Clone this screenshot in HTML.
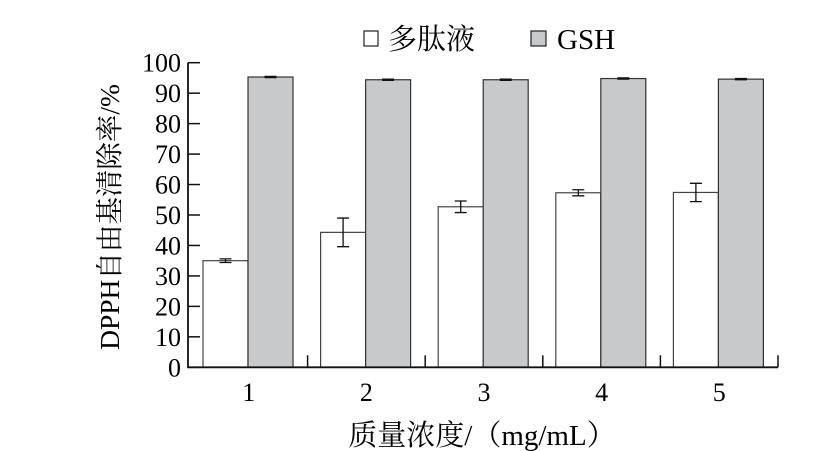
<!DOCTYPE html>
<html><head><meta charset="utf-8"><style>
html,body{margin:0;padding:0;background:#fff;}
svg{display:block;font-family:"Liberation Serif","Noto Serif CJK SC",serif;}
</style></head><body>
<svg id="chart" width="829" height="451">
<g id="legend">
 <rect x="364" y="31" width="14" height="15" fill="#fff" stroke="#222" stroke-width="1.2"/>
 <text x="388" y="49" font-size="29">多肽液</text>
 <rect x="531" y="31" width="15" height="15" fill="#c8c9cb" stroke="#222" stroke-width="1.2"/>
 <text x="557" y="49" font-size="29">GSH</text>
</g>
<g id="plot"></g>
<text transform="translate(119,217) rotate(-90)" text-anchor="middle" font-size="27.5">DPPH自由基清除率/%</text>
<text x="482" y="445" text-anchor="middle" font-size="29">质量浓度/（mg/mL）</text>
</svg>
<script>
const categories = ["1","2","3","4","5"];
const peptide = [35.0, 44.3, 52.7, 57.3, 57.4];
const peptideErr = [0.6, 4.7, 1.9, 1.0, 3.0];
const gsh = [95.3, 94.4, 94.4, 94.8, 94.6];
const gshErr = [0.2, 0.2, 0.2, 0.2, 0.2];
const yTicks = [0,10,20,30,40,50,60,70,80,90,100];

const NS="http://www.w3.org/2000/svg";
const x0=190, bandW=117.6, y0=367.3, y100=62.7, axisX=188, axisEnd=778;
const yS=v=>y0-(v/100)*(y0-y100);
const bandStart=i=>x0+i*bandW;
const g=document.getElementById('plot');
function mk(t,a){const e=document.createElementNS(NS,t);for(const k in a)e.setAttribute(k,a[k]);g.appendChild(e);return e;}
categories.forEach((c,i)=>{
  const cx=bandStart(i)+bandW/2;
  const w=45;
  let r=mk('rect',{x:cx-w-0.8,y:yS(peptide[i]),width:w,height:y0-yS(peptide[i]),fill:'#fff',stroke:'#444','stroke-width':1.2});
  
  
  let r2=mk('rect',{x:cx-0.8,y:yS(gsh[i]),width:w,height:y0-yS(gsh[i]),fill:'#c8c9cb',stroke:'#333','stroke-width':1.2});
  
  
  [[cx-w/2-0.8,peptide[i],peptideErr[i]],[cx+w/2-0.8,gsh[i],gshErr[i]]].forEach(([ex,v,e],j)=>{
    const p=mk('path',{d:`M${ex},${yS(v+e)}V${yS(v-e)}M${ex-6},${yS(v+e)}H${ex+6}M${ex-6},${yS(v-e)}H${ex+6}`,stroke:'#111','stroke-width':1.3,fill:'none'});
    
    
  });
  const sep=mk('line',{x1:bandStart(i+1),x2:bandStart(i+1),y1:y0,y2:y0-12,stroke:'#111','stroke-width':1.5});
  
  
  const t=mk('text',{x:cx,y:401,'text-anchor':'middle','font-size':26});
  t.textContent=c;
  
  
});
yTicks.forEach(v=>{
  const l=mk('line',{x1:axisX,x2:axisX+12,y1:yS(v),y2:yS(v),stroke:'#111','stroke-width':1.5});
  
  
  const t=mk('text',{x:181,y:yS(v)+9,'text-anchor':'end','font-size':26});
  t.textContent=v;
  
  
});
const ax=mk('path',{d:`M${axisX},${y100}V${y0}H${axisEnd}`,stroke:'#111','stroke-width':1.8,fill:'none'});


</script>
</body></html>
